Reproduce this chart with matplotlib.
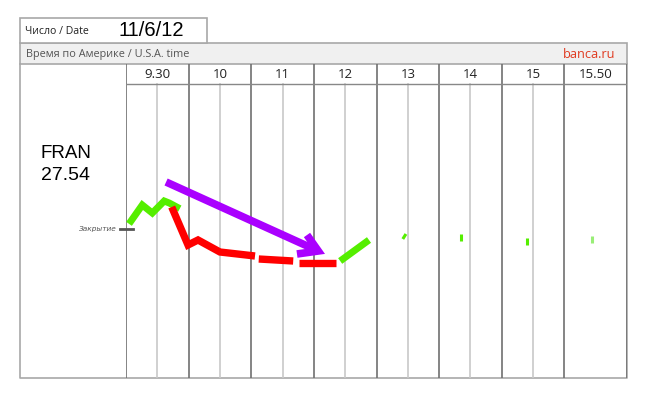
import matplotlib
matplotlib.use('Agg')
import matplotlib.pyplot as plt
import matplotlib.transforms as mtransforms

# data (x in hour columns, y in price)
hours = ['9.30', '10', '11', '12', '13', '14', '15', '15.50']
ticker = 'FRAN'
close = 27.54
date = '11/6/12'

green1_x = [0.08, 0.26, 0.42, 0.61, 0.69, 0.81]
green1_y = [27.62, 27.78, 27.70, 27.82, 27.80, 27.76]
red1_x = [0.73, 0.99, 1.15, 1.50, 2.06]
red1_y = [27.76, 27.38, 27.43, 27.31, 27.27]
red2_x = [2.12, 2.67]
red2_y = [27.24, 27.22]
red3_x = [2.76, 3.35]
red3_y = [27.20, 27.20]
green2_x = [3.42, 3.88]
green2_y = [27.22, 27.43]
tick_x0 = [4.42, 5.35, 6.41, 7.44]
tick_x1 = [4.47, 5.35, 6.41, 7.44]
tick_y0 = [27.44, 27.42, 27.38, 27.40]
tick_y1 = [27.49, 27.49, 27.45, 27.47]
arrow_x = [0.64, 3.07]
arrow_y = [28.01, 27.32]
head_x = [2.89, 3.07, 2.73]
head_y = [27.48, 27.32, 27.29]

W, H = 648, 397
fig = plt.figure(figsize=(W / 100, H / 100), dpi=100)

# frame, in pixels
fr = fig.add_axes([0, 0, 1, 1])
fr.set_xlim(0, W)
fr.set_ylim(H, 0)
fr.axis('off')
edge = '#a8a8a8'
fr.add_patch(plt.Rectangle((20, 43), 607, 21, facecolor='#f0f0f0', edgecolor=edge, lw=1.2))
fr.add_patch(plt.Rectangle((20, 18), 187, 25, facecolor='white', edgecolor=edge, lw=1.2))
fr.plot([20, 20, 627, 627], [64, 378, 378, 64], color=edge, lw=1.2)
fr.text(25, 31, 'Число / Date', fontsize=7.6, family='Open Sans', va='center', color='#222222')
fr.text(118, 31, date, fontsize=14.5, family='Liberation Sans', va='center')
fr.text(26, 54, 'Время по Америке / U.S.A. time', fontsize=7.8, family='Open Sans',
        va='center', color='#555555')
fr.text(615, 54, 'banca.ru', fontsize=9.2, family='Open Sans', va='center', ha='right',
        color='#e03a20')
fr.text(41, 153, ticker, fontsize=13.5, family='Liberation Sans', va='center')
fr.text(41, 176, '%.2f' % close, fontsize=14, family='Liberation Sans', va='center')

# chart area
ax = fig.add_axes([126 / W, 1 - 378 / H, 501 / W, 314 / H])
ax.set_xlim(0, 8)
ax.set_ylim(close - 1.49, close + 1.65)
ax.axis('off')
top_row = (378 - 84) / 314
for i in range(len(hours) + 1):
    ax.axvline(i, color='#707070', lw=1.2)
for i in range(len(hours) - 1):
    ax.axvline(i + 0.5, ymax=top_row, color='#c8c8c8', lw=1.2)
ax.axhline(close + 1.45, color='#888888', lw=1)
trans = mtransforms.blended_transform_factory(ax.transData, ax.transAxes)
for i, h in enumerate(hours):
    ax.text(i + 0.5, (378 - 74) / 314, h, transform=trans, ha='center', va='center',
            fontsize=9.5, family='Open Sans', color='#222222')

ax.plot([-0.1, 0.11], [close, close], color='#555555', lw=2, clip_on=False)
ax.text(-0.14, close, 'Закрытие', ha='right', va='center', fontsize=5.3, style='italic',
        color='#555555', clip_on=False)

green = '#55ee00'
red = '#ff0000'
ax.plot(green1_x, green1_y, color=green, lw=5, solid_joinstyle='miter')
ax.plot(red1_x, red1_y, color=red, lw=5.3, solid_joinstyle='miter', solid_capstyle='butt')
ax.plot(red2_x, red2_y, color=red, lw=5.3, solid_capstyle='butt')
ax.plot(red3_x, red3_y, color=red, lw=5.3, solid_capstyle='butt')
ax.plot(green2_x, green2_y, color=green, lw=5, solid_capstyle='butt')
for i in range(len(tick_x0)):
    c = '#99ee77' if i == len(tick_x0) - 1 else green
    ax.plot([tick_x0[i], tick_x1[i]], [tick_y0[i], tick_y1[i]], color=c, lw=2.2,
            solid_capstyle='butt')
ax.plot(arrow_x, arrow_y, color='#aa00ff', lw=5.5, solid_capstyle='butt')
ax.plot(head_x, head_y, color='#aa00ff', lw=5.5, solid_capstyle='butt', solid_joinstyle='miter')

fig.savefig('out.png', dpi=100)
